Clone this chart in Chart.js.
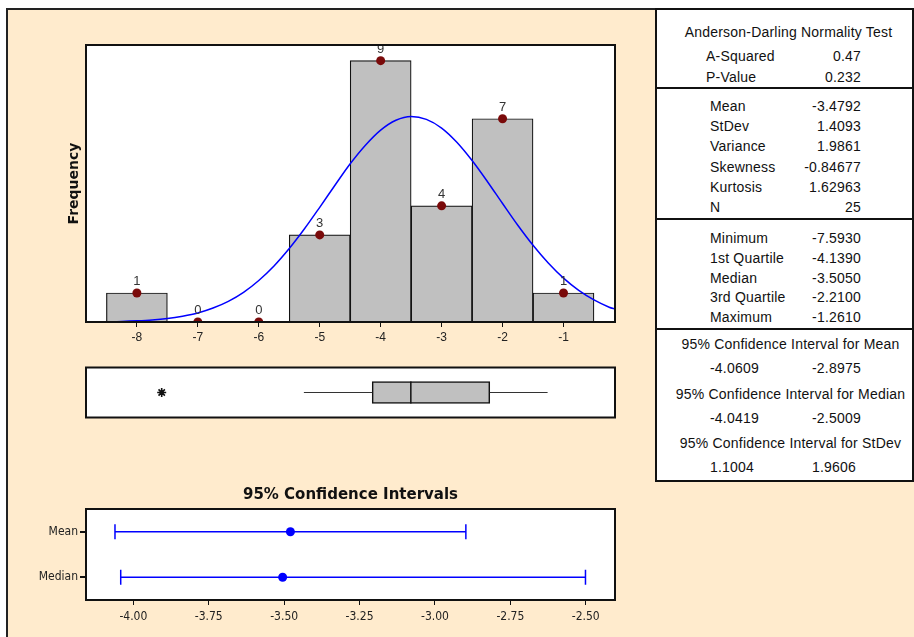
<!DOCTYPE html>
<html>
<head>
<meta charset="utf-8">
<script src="https://cdn.jsdelivr.net/npm/chart.js@4.4.1/dist/chart.umd.min.js"></script>
<style>
body { margin: 0; width: 914px; height: 637px; background: #fff; overflow: hidden; position: relative;
       font-family: "Liberation Sans", Arial, sans-serif; }
#bg { position: absolute; left: 6px; top: 8px; width: 908px; height: 629px; background: #ffebcd;
      border-left: 2px solid #222; border-top: 2px solid #222; box-sizing: border-box; }
canvas { position: absolute; }
#stats { position: absolute; left: 655px; top: 8px; width: 259px; height: 474px; background: #fff;
         border: 2px solid #111; box-sizing: border-box; }
.rule { position: absolute; left: 655px; width: 259px; height: 2px; background: #111; }
.t { position: absolute; font-size: 14px; line-height: 20px; color: #111; white-space: nowrap; letter-spacing: 0.2px; }
</style>
</head>
<body>
<div id="bg"></div>
<canvas id="hist" width="648" height="345" style="left:7px;top:10px"></canvas>
<canvas id="box" width="648" height="75" style="left:7px;top:355px"></canvas>
<canvas id="ci" width="648" height="167" style="left:7px;top:470px"></canvas>
<div id="stats"></div>
<script>
// histogram
var binCenters = [-8, -7, -6, -5, -4, -3, -2, -1];
var binCounts = [1, 0, 0, 3, 9, 4, 7, 1];
var histTicks = [-8, -7, -6, -5, -4, -3, -2, -1];

// fitted normal curve
var curveX = [-8.75, -8.5, -8.25, -8, -7.75, -7.5, -7.25, -7, -6.75, -6.5, -6.25, -6, -5.75, -5.5,
              -5.25, -5, -4.75, -4.5, -4.25, -4, -3.75, -3.5, -3.25, -3, -2.75, -2.5, -2.25, -2,
              -1.75, -1.5, -1.25, -1, -0.75, -0.5, -0.25, -0.15];
var curveY = [0.01, 0.01, 0.02, 0.04, 0.07, 0.12, 0.2, 0.31, 0.48, 0.71, 1.02, 1.43, 1.93, 2.53,
              3.21, 3.95, 4.71, 5.45, 6.09, 6.61, 6.95, 7.08, 6.98, 6.68, 6.19, 5.56, 4.84, 4.08,
              3.33, 2.64, 2.03, 1.51, 1.09, 0.76, 0.51, 0.44];

// boxplot
var boxQ1 = -4.139;
var boxMedian = -3.505;
var boxQ3 = -2.21;
var whiskerLow = -5.26;
var whiskerHigh = -1.261;
var outliers = [-7.593];

// 95% confidence intervals
var ciLabels = ["Mean", "Median"];
var ciLow = [-4.0609, -4.0419];
var ciHigh = [-2.8975, -2.5009];
var ciEst = [-3.4792, -3.505];
var ciTicks = [-4.00, -3.75, -3.50, -3.25, -3.00, -2.75, -2.50];

// stats table
var adLabels = ["A-Squared", "P-Value"];
var adValues = ["0.47", "0.232"];
var descLabels = ["Mean", "StDev", "Variance", "Skewness", "Kurtosis", "N"];
var descValues = ["-3.4792", "1.4093", "1.9861", "-0.84677", "1.62963", "25"];
var quantLabels = ["Minimum", "1st Quartile", "Median", "3rd Quartile", "Maximum"];
var quantValues = ["-7.5930", "-4.1390", "-3.5050", "-2.2100", "-1.2610"];
var ciTitles = ["95% Confidence Interval for Mean", "95% Confidence Interval for Median",
                "95% Confidence Interval for StDev"];
var ciTabLow = ["-4.0609", "-4.0419", "1.1004"];
var ciTabHigh = ["-2.8975", "-2.5009", "1.9606"];

var xMin = -8.835, xMax = -0.155;
var narrow = "'Liberation Sans Narrow', 'DejaVu Sans Condensed', sans-serif";

var frame = {
    id: "frame",
    beforeDraw: function (chart) {
        var a = chart.chartArea, c = chart.ctx;
        c.save();
        c.fillStyle = "#fff";
        c.fillRect(a.left, a.top, a.right - a.left, a.bottom - a.top);
        c.restore();
    },
    afterDraw: function (chart) {
        var a = chart.chartArea, c = chart.ctx;
        c.save();
        c.strokeStyle = "#111";
        c.lineWidth = 2;
        c.strokeRect(a.left, a.top, a.right - a.left, a.bottom - a.top);
        c.restore();
    }
};

var countLabels = {
    id: "countLabels",
    afterDatasetsDraw: function (chart) {
        var meta = chart.getDatasetMeta(0);
        var c = chart.ctx;
        c.save();
        c.font = "13px 'Liberation Sans', Arial, sans-serif";
        c.fillStyle = "#333";
        c.textAlign = "center";
        c.textBaseline = "bottom";
        meta.data.forEach(function (pt, i) {
            c.fillText(String(binCounts[i]), pt.x, pt.y - 5);
        });
        c.restore();
    }
};

Chart.defaults.animation = false;
Chart.defaults.plugins.legend.display = false;
Chart.defaults.plugins.tooltip.enabled = false;

new Chart(document.getElementById("hist"), {
    type: "bar",
    data: {
        datasets: [
            {
                type: "line",
                order: 0,
                data: binCenters.map(function (x, i) { return {x: x, y: binCounts[i]}; }),
                showLine: false,
                pointRadius: 4.5,
                pointBackgroundColor: "#7a0a0a",
                pointBorderColor: "#7a0a0a",
                pointBorderWidth: 0
            },
            {
                type: "line",
                order: 1,
                data: curveX.map(function (x, i) { return {x: x, y: curveY[i]}; }),
                borderColor: "#0000ff",
                borderWidth: 1.5,
                pointRadius: 0,
                cubicInterpolationMode: "monotone"
            },
            {
                type: "bar",
                order: 2,
                data: binCenters.map(function (x, i) { return {x: x, y: binCounts[i]}; }),
                backgroundColor: "#c0c0c0",
                borderColor: "#111",
                borderWidth: 1.2,
                borderSkipped: false,
                barPercentage: 1,
                categoryPercentage: 1
            }
        ]
    },
    options: {
        responsive: false,
        layout: {padding: {left: 55, right: 40, top: 35, bottom: 5}},
        scales: {
            x: {
                type: "linear", min: xMin, max: xMax, offset: false,
                grid: {display: true, offset: false, drawOnChartArea: false, tickLength: 5, color: "#111"},
                border: {display: false},
                afterBuildTicks: function (s) { s.ticks = histTicks.map(function (v) { return {value: v}; }); },
                afterFit: function (s) { s.height = 28; },
                ticks: {color: "#222", font: {family: "'Liberation Sans', Arial, sans-serif", size: 12}, padding: 3}
            },
            y: {
                type: "linear", min: 0, max: 9.54,
                grid: {display: false},
                border: {display: false},
                ticks: {display: false},
                afterFit: function (s) { s.width = 24; },
                title: {display: true, text: "Frequency", color: "#111",
                        font: {family: "'DejaVu Sans', sans-serif", size: 14, weight: "bold"}}
            }
        }
    },
    plugins: [frame, countLabels]
});

new Chart(document.getElementById("box"), {
    type: "bar",
    data: {
        datasets: [
            {
                type: "line", order: 0,
                data: [{x: boxMedian, y: 0}],
                showLine: false,
                pointStyle: "line", rotation: 90, pointRadius: 11,
                pointBorderColor: "#111", pointBorderWidth: 1.5
            },
            {
                type: "line", order: 0,
                data: outliers.map(function (v) { return {x: v, y: 0}; }),
                showLine: false,
                pointStyle: "star", pointRadius: 4.5,
                pointBorderColor: "#111", pointBorderWidth: 1.6
            },
            {
                type: "line", order: 1,
                data: [{x: whiskerLow, y: 0}, {x: boxQ1, y: 0}],
                borderColor: "#333", borderWidth: 1.2, pointRadius: 0
            },
            {
                type: "line", order: 1,
                data: [{x: boxQ3, y: 0}, {x: whiskerHigh, y: 0}],
                borderColor: "#333", borderWidth: 1.2, pointRadius: 0
            },
            {
                type: "bar", order: 2,
                data: [{x: [boxQ1, boxQ3], y: 0}],
                backgroundColor: "#c0c0c0",
                borderColor: "#111",
                borderWidth: 1.5,
                borderSkipped: false,
                barThickness: 22
            }
        ]
    },
    options: {
        responsive: false,
        indexAxis: "y",
        layout: {padding: {left: 79, right: 40, top: 8, bottom: 7}},
        scales: {
            x: {type: "linear", min: xMin, max: xMax, display: false, offset: false},
            y: {type: "linear", min: -0.5, max: 0.5, display: false, offset: false}
        }
    },
    plugins: [frame]
});

var ciSets = ciLabels.map(function (lab, i) {
    return {
        order: 1,
        data: [{x: ciLow[i], y: lab}, {x: ciHigh[i], y: lab}],
        borderColor: "#0000ff",
        borderWidth: 1.5,
        pointStyle: "line", rotation: 90, pointRadius: 7.5,
        pointBorderColor: "#0000ff", pointBorderWidth: 1.5
    };
});
ciSets.unshift({
    order: 0,
    data: ciLabels.map(function (lab, i) { return {x: ciEst[i], y: lab}; }),
    showLine: false,
    pointRadius: 4.5,
    pointBackgroundColor: "#0000ff",
    pointBorderColor: "#0000ff",
    pointBorderWidth: 0
});

new Chart(document.getElementById("ci"), {
    type: "line",
    data: {labels: ciLabels, datasets: ciSets},
    options: {
        responsive: false,
        indexAxis: "y",
        layout: {padding: {left: 6, right: 40, top: 8, bottom: 12}},
        plugins: {
            title: {
                display: true, fullSize: false,
                text: "95% Confidence Intervals",
                color: "#111",
                font: {family: "'DejaVu Sans', sans-serif", size: 15, weight: "bold"},
                padding: {top: 8, bottom: 5}
            }
        },
        scales: {
            x: {
                type: "linear", min: -4.157, max: -2.403,
                grid: {display: true, drawOnChartArea: false, tickLength: 5, color: "#111"},
                border: {display: false},
                afterBuildTicks: function (s) { s.ticks = ciTicks.map(function (v) { return {value: v}; }); },
                afterFit: function (s) { s.height = 25; },
                ticks: {color: "#222", padding: 5, font: {family: narrow, size: 12},
                        callback: function (v) { return Number(v).toFixed(2); }}
            },
            y: {
                type: "category", offset: true,
                grid: {display: true, offset: false, drawOnChartArea: false, tickLength: 6, color: "#111", lineWidth: 2},
                border: {display: false},
                afterFit: function (s) { s.width = 73; },
                ticks: {color: "#222", padding: 2, font: {family: narrow, size: 12}}
            }
        }
    },
    plugins: [frame]
});

// stats table as real text
function addText(txt, left, centerY, width, align) {
    var d = document.createElement("div");
    d.className = "t";
    d.textContent = txt;
    d.style.left = left + "px";
    d.style.top = (centerY - 10) + "px";
    if (width) {
        d.style.width = width + "px";
        d.style.textAlign = align;
    }
    document.body.appendChild(d);
}
function addRule(y) {
    var d = document.createElement("div");
    d.className = "rule";
    d.style.top = (y - 1) + "px";
    document.body.appendChild(d);
}

addText("Anderson-Darling Normality Test", 660, 32, 257, "center");
adLabels.forEach(function (l, i) {
    addText(l, 706, 56 + i * 20.7);
    addText(adValues[i], 761, 56 + i * 20.7, 100, "right");
});
addRule(88);
descLabels.forEach(function (l, i) {
    addText(l, 710, 106 + i * 20.2);
    addText(descValues[i], 761, 106 + i * 20.2, 100, "right");
});
addRule(219);
quantLabels.forEach(function (l, i) {
    addText(l, 710, 238 + i * 19.8);
    addText(quantValues[i], 761, 238 + i * 19.8, 100, "right");
});
addRule(329);
ciTitles.forEach(function (l, i) {
    var y = 344 + i * 49.5;
    addText(l, 662, y, 257, "center");
    addText(ciTabLow[i], 710, y + 24);
    addText(ciTabHigh[i], 812, y + 24);
});
</script>
</body>
</html>
